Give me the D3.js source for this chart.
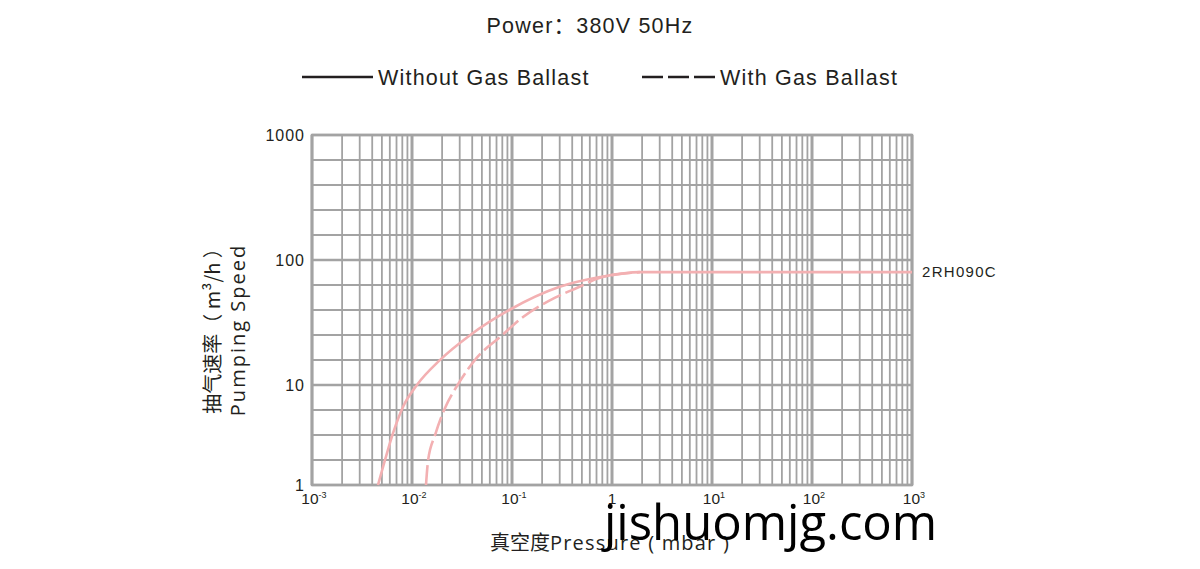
<!DOCTYPE html>
<html>
<head>
<meta charset="utf-8">
<script src="https://cdn.jsdelivr.net/npm/d3@7"></script>
<style>
  html, body { margin: 0; padding: 0; background: #fff; }
  svg { display: block; }
</style>
</head>
<body>
<svg id="chart" width="1200" height="569"></svg>
<script>
// ---------- DATA ----------
const title = "Power：380V 50Hz";
const seriesNames = ["Without Gas Ballast", "With Gas Ballast"];
const modelLabel = "2RH090C";
const yLabelCN = "抽气速率（ m³/h ）";
const yLabelEN = "Pumping Speed";
const xLabelCN = "真空度";
const xLabelEN = "Pressure ( mbar )";
const watermark = "jishuomjg.com";

// pressure (mbar) and pumping speed (m3/h)
const withoutPressure = [0.00457, 0.00537, 0.00646, 0.0081, 0.0112, 0.019, 0.038, 0.095, 0.30, 0.76, 1.9, 1000];
const withoutSpeed    = [1, 1.78, 3.3, 6.0, 10, 15.8, 25, 40, 61, 73, 80, 80];
const withPressure    = [0.0138, 0.0145, 0.017, 0.0214, 0.029, 0.045, 0.076, 0.129, 0.27, 0.45, 0.76, 1.9];
const withSpeed       = [1, 1.78, 3.16, 5.9, 10.2, 16.7, 24.2, 35, 50, 60, 72, 80];

const xTickExponents = [-3, -2, -1, 0, 1, 2, 3];
const yTickValues = [1, 10, 100, 1000];
const yTickLabels = ["1", "10", "100", "1000"];
// horizontal grid levels (log10 of speed) as printed on the chart paper
const yGridLevels = [0, 0.25, 0.5, 0.75, 1, 1.2, 1.4, 1.6, 1.8, 2, 2.2, 2.4, 2.6, 2.8, 3];

// ---------- LAYOUT ----------
const svg = d3.select("#chart");
const left = 312, right = 912;
const x = d3.scaleLog().domain([1e-3, 1e3]).range([left, right]);
// chart paper: bottom decade compressed
const yLin = d3.scaleLinear().domain([0, 1, 2, 3]).range([485, 385, 260, 135]);
const y = v => yLin(Math.log10(v));

const gridColor = "#a3a3a3";
const curveColor = "#f3b0b2";
const textColor = "#231f20";
const latin = "'Liberation Sans', Arial, sans-serif";
const cjk = "'Noto Sans CJK SC', sans-serif";

// Title
svg.append("text").attr("x", 590).attr("y", 33).attr("text-anchor", "middle")
  .attr("font-family", latin + "," + cjk).attr("font-size", 21.5).attr("letter-spacing", 1.2)
  .attr("fill", textColor).text(title);

// Legend
svg.append("line").attr("x1", 302).attr("x2", 373).attr("y1", 77).attr("y2", 77)
  .attr("stroke", textColor).attr("stroke-width", 2.4);
svg.append("text").attr("x", 378).attr("y", 85).attr("font-family", latin)
  .attr("font-size", 21.5).attr("letter-spacing", 1.2).attr("fill", textColor).text(seriesNames[0]);
svg.append("line").attr("x1", 642).attr("x2", 715).attr("y1", 77).attr("y2", 77)
  .attr("stroke", textColor).attr("stroke-width", 2.4).attr("stroke-dasharray", "21,5");
svg.append("text").attr("x", 720).attr("y", 85).attr("font-family", latin)
  .attr("font-size", 21.5).attr("letter-spacing", 1.2).attr("fill", textColor).text(seriesNames[1]);

// Grid
const g = svg.append("g");
const yTop = yLin(3), yBot = yLin(0);
yGridLevels.forEach(l => {
  g.append("line").attr("x1", left).attr("x2", right).attr("y1", yLin(l)).attr("y2", yLin(l))
    .attr("stroke", gridColor).attr("stroke-width", (l % 1 === 0) ? 2.4 : 2);
});
const minor = [];
for (let e = -3; e < 3; e++) for (let m = 2; m <= 9; m++) minor.push(m * Math.pow(10, e));
minor.forEach(v => {
  g.append("line").attr("x1", x(v)).attr("x2", x(v)).attr("y1", yTop).attr("y2", yBot)
    .attr("stroke", gridColor).attr("stroke-width", 1.8);
});
xTickExponents.forEach(e => {
  g.append("line").attr("x1", x(Math.pow(10, e))).attr("x2", x(Math.pow(10, e)))
    .attr("y1", yTop).attr("y2", yBot).attr("stroke", gridColor).attr("stroke-width", 3);
});
g.append("rect").attr("x", left).attr("y", yTop).attr("width", right - left).attr("height", yBot - yTop)
  .attr("fill", "none").attr("stroke", gridColor).attr("stroke-width", 2.4);

// Y tick labels
yTickValues.forEach((v, i) => {
  svg.append("text").attr("x", 305).attr("y", y(v) + 6).attr("text-anchor", "end")
    .attr("font-family", latin).attr("font-size", 16).attr("letter-spacing", 1)
    .attr("fill", textColor).text(yTickLabels[i]);
});

// X tick labels
xTickExponents.forEach(e => {
  const t = svg.append("text").attr("x", x(Math.pow(10, e)) + (e === 0 ? 0 : 2)).attr("y", 504)
    .attr("text-anchor", "middle").attr("font-family", latin).attr("font-size", 15.5).attr("fill", textColor);
  if (e === 0) { t.text("1"); }
  else {
    t.append("tspan").text("10");
    t.append("tspan").attr("font-size", 9).attr("dy", -6).text(e < 0 ? "-" + (-e) : String(e));
  }
});

// Curves
const line = d3.line().x(d => x(d[0])).y(d => y(d[1])).curve(d3.curveMonotoneX);
const withoutData = withoutPressure.map((p, i) => [p, withoutSpeed[i]]);
const withData = withPressure.map((p, i) => [p, withSpeed[i]]);
svg.append("path").attr("d", line(withoutData)).attr("fill", "none")
  .attr("stroke", curveColor).attr("stroke-width", 2.6);
svg.append("path").attr("d", line(withData)).attr("fill", "none")
  .attr("stroke", curveColor).attr("stroke-width", 2.6).attr("stroke-dasharray", "20,5");

// Model label
svg.append("text").attr("x", 922).attr("y", 277).attr("font-family", latin)
  .attr("font-size", 15).attr("letter-spacing", 1.3).attr("fill", textColor).text(modelLabel);

// Y axis label (rotated)
svg.append("text").attr("transform", "translate(220,326) rotate(-90)").attr("text-anchor", "middle")
  .attr("font-family", cjk).attr("font-size", 20).attr("fill", textColor).text(yLabelCN);
svg.append("text").attr("transform", "translate(245,330) rotate(-90)").attr("text-anchor", "middle")
  .attr("font-family", "'Open Sans', " + cjk).attr("font-size", 20).attr("letter-spacing", 2)
  .attr("fill", textColor).text(yLabelEN);

// X axis label
const xl = svg.append("text").attr("x", 490).attr("y", 550).attr("font-size", 20).attr("fill", textColor);
xl.append("tspan").attr("font-family", cjk).text(xLabelCN);
xl.append("tspan").attr("font-family", "'Open Sans', sans-serif").attr("letter-spacing", 1.2).text(xLabelEN);

// Watermark
svg.append("text").attr("x", 604).attr("y", 540).attr("font-family", "'Open Sans', sans-serif")
  .attr("font-size", 49).attr("fill", "#000").text(watermark);
</script>
</body>
</html>
